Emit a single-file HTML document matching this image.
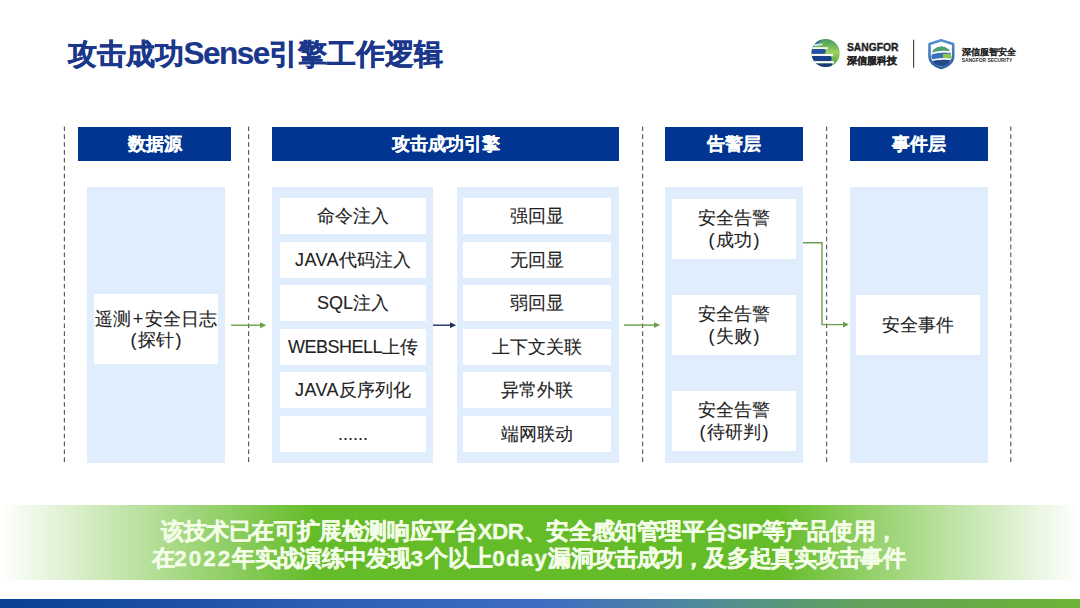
<!DOCTYPE html>
<html><head><meta charset="utf-8">
<style>
*{margin:0;padding:0;box-sizing:border-box}
html,body{width:1080px;height:608px;overflow:hidden;background:#fff}
body{position:relative;font-family:"Liberation Sans",sans-serif;color:#222}
.a{position:absolute}
.title{left:67.5px;top:35px;font-size:29px;font-weight:bold;color:#1a378b;-webkit-text-stroke:0.4px #1a378b;white-space:nowrap;line-height:36px;letter-spacing:0}
.dash{position:absolute;top:126px;width:1px;height:337px;
  background:repeating-linear-gradient(to bottom,#666 0,#666 3px,transparent 3px,transparent 5.3px)}
.hdr{position:absolute;top:127.4px;height:34px;background:#023592;color:#fff;-webkit-text-stroke:0.15px #fff;font-weight:bold;font-size:18px;
  display:flex;align-items:center;justify-content:center;white-space:nowrap}
.pnl{position:absolute;top:186.5px;height:276.5px;background:#e0edfd}
.box{position:absolute;background:#fff;display:flex;align-items:center;justify-content:center;text-align:center;
  font-size:18px;line-height:22px;color:#222;-webkit-text-stroke:0.1px #222;white-space:nowrap}
.banner{left:0;top:505px;width:1080px;height:75px;
  background:linear-gradient(90deg,#ffffff 0%,#65bc29 29%,#65bc29 72%,#ffffff 100%)}
.bl{color:#f4fde8;-webkit-text-stroke:0.3px #f4fde8;font-weight:bold;font-size:22.5px;line-height:24px;white-space:nowrap}
.bar{left:0;top:599px;width:1080px;height:9px;
  background:linear-gradient(90deg,#0a3f94 0%,#2d5fb5 30%,#3e6cc4 50%,#4f8a9a 65%,#62a25a 80%,#6cb435 100%)}
</style></head>
<body>
<div class="a title">攻击成功<span style="font-size:31.5px;letter-spacing:-1.5px;-webkit-text-stroke:0.2px #1a378b">Sense</span>引擎工作逻辑</div>

<!-- logo -->
<svg class="a" style="left:800px;top:30px" width="230" height="50" viewBox="800 30 230 50">
  <defs>
    <clipPath id="gc"><circle cx="825.6" cy="53" r="14.1"/></clipPath>
    <linearGradient id="gg" x1="0" y1="0" x2="1" y2="0">
      <stop offset="0" stop-color="#1d4a93"/><stop offset="0.45" stop-color="#2a629f"/>
      <stop offset="0.62" stop-color="#4f9e58"/><stop offset="1" stop-color="#8cc640"/>
    </linearGradient>
    <linearGradient id="sg" x1="0" y1="0" x2="0" y2="1">
      <stop offset="0" stop-color="#5a8fcf"/><stop offset="1" stop-color="#2c5d9e"/>
    </linearGradient>
    <linearGradient id="gv" x1="0" y1="0" x2="0" y2="1">
      <stop offset="0" stop-color="#3d9657"/><stop offset="0.45" stop-color="#9fd060"/><stop offset="0.75" stop-color="#5cae4e"/><stop offset="1" stop-color="#3c8a5c"/>
    </linearGradient>
    <clipPath id="sc"><circle cx="941.3" cy="56.3" r="9.9"/></clipPath>
  </defs>
  <g clip-path="url(#gc)">
    <rect x="810" y="38" width="32" height="32" fill="url(#gv)"/>
    <path d="M810 40 L822 40 Q818 44 814 47.2 L810 47.2Z" fill="#3a6fb0"/>
    <path d="M812 44.6 Q816 44 822 43.6 L823 45 Q817 45.6 812 46.4Z" fill="#cfe9ee"/>
    <rect x="810" y="47.2" width="18" height="1.8" fill="#f2f7f4"/>
    <path d="M810 49 L824.5 49 Q827 51.4 824.5 53.9 L810 53.9Z" fill="#2552a0"/>
    <rect x="810" y="53.9" width="23" height="2.2" fill="#f4f8f6"/>
    <path d="M810 56.1 L830.5 56.1 Q833 58.6 830.5 61.1 L810 61.1Z" fill="#1a3f86"/>
    <rect x="810" y="61.1" width="24" height="2.3" fill="#f6f9f6"/>
    <path d="M810 63.4 L832 63.4 L832 70 L810 70Z" fill="#1c3a78"/>
  </g>
  <text x="847" y="51.2" font-family="Liberation Sans" font-weight="bold" font-size="10.3" fill="#1e1e1e" stroke="#1e1e1e" stroke-width="0.35">SANGFOR</text>
  <text x="847" y="63.6" font-weight="bold" font-size="10.2" fill="#262626" stroke="#262626" stroke-width="0.3">深信服科技</text>
  <rect x="913" y="39.7" width="1.2" height="28" fill="#4a4a4a"/>
  <path d="M929.5 44 L941 40.3 L953.2 44 L953.2 56 Q953.2 64.5 941 68 Q929.5 64.5 929.5 56Z" fill="none" stroke="url(#sg)" stroke-width="2.6" stroke-linejoin="round"/>
  <g clip-path="url(#sc)">
    <rect x="930" y="45" width="24" height="23" fill="#3a72b6"/>
    <path d="M930 45 L953 45 L953 51.5 Q941 49.2 930 53Z" fill="#4fa06a"/>
    <path d="M930 53 Q941 49.2 953 51.5 L953 53.2 Q941 51 930 54.8Z" fill="#fff"/>
    <path d="M943 54 Q948 53.3 953 54.2 L953 58.6 Q948 57.8 943 58.4Z" fill="#8cc653"/>
    <path d="M930 59.8 Q941 56.8 953 58.6 L953 60.4 Q941 58.6 930 61.6Z" fill="#fff"/>
    <path d="M930 61.6 Q941 58.6 953 60.4 L953 68 L930 68Z" fill="#21498a"/>
  </g>
  <text x="961.7" y="54.6" font-weight="bold" font-size="8.5" fill="#262626" stroke="#262626" stroke-width="0.1">深信服智安全</text>
  <text x="961.7" y="62.4" font-family="Liberation Sans" font-weight="bold" font-size="5.4" fill="#2a2a2a" textLength="50.5" lengthAdjust="spacingAndGlyphs">SANGFOR SECURITY</text>
</svg>

<!-- dashed separators -->
<svg class="a" style="left:0;top:0" width="1080" height="608">
  <g stroke="#5a5a5a" stroke-width="1.15" stroke-dasharray="4.6 3.28">
    <line x1="64.4" y1="126.4" x2="64.4" y2="462"/>
    <line x1="248.6" y1="126.4" x2="248.6" y2="462"/>
    <line x1="642.6" y1="126.4" x2="642.6" y2="462"/>
    <line x1="826.6" y1="126.4" x2="826.6" y2="462"/>
    <line x1="1010.8" y1="126.4" x2="1010.8" y2="462"/>
  </g>
</svg>

<!-- headers -->
<div class="hdr" style="left:78px;width:153px">数据源</div>
<div class="hdr" style="left:272px;width:347px">攻击成功引擎</div>
<div class="hdr" style="left:665px;width:138px">告警层</div>
<div class="hdr" style="left:850px;width:138px">事件层</div>

<!-- panels -->
<div class="pnl" style="left:87px;width:138px"></div>
<div class="pnl" style="left:272px;width:161px"></div>
<div class="pnl" style="left:457px;width:162px"></div>
<div class="pnl" style="left:665px;width:138px"></div>
<div class="pnl" style="left:850px;width:138px"></div>

<!-- data source box -->
<div class="box" style="left:94px;top:294px;width:124px;height:70px"><div><span style="position:relative;top:1px">遥测<span style="margin:0 1.5px">+</span>安全日志</span><br><span style="margin-right:1.5px">(</span>探针<span style="margin-left:1.5px">)</span></div></div>

<!-- engine col 1 -->
<div class="box" style="left:280px;top:198px;width:146px;height:36px">命令注入</div>
<div class="box" style="left:280px;top:241.6px;width:146px;height:36px"><span style="letter-spacing:0.4px">JAVA</span>代码注入</div>
<div class="box" style="left:280px;top:285.2px;width:146px;height:36px">SQL注入</div>
<div class="box" style="left:280px;top:328.8px;width:146px;height:36px"><span style="letter-spacing:-0.5px">WEBSHELL</span>上传</div>
<div class="box" style="left:280px;top:372.4px;width:146px;height:36px"><span style="letter-spacing:0.4px">JAVA</span>反序列化</div>
<div class="box" style="left:280px;top:416px;width:146px;height:36px">......</div>

<!-- engine col 2 -->
<div class="box" style="left:463px;top:198px;width:148px;height:36px">强回显</div>
<div class="box" style="left:463px;top:241.6px;width:148px;height:36px">无回显</div>
<div class="box" style="left:463px;top:285.2px;width:148px;height:36px">弱回显</div>
<div class="box" style="left:463px;top:328.8px;width:148px;height:36px">上下文关联</div>
<div class="box" style="left:463px;top:372.4px;width:148px;height:36px">异常外联</div>
<div class="box" style="left:463px;top:416px;width:148px;height:36px">端网联动</div>

<!-- alarm -->
<div class="box" style="left:672px;top:199px;width:124px;height:60px"><div>安全告警<br><span style="margin-right:1.5px">(</span>成功<span style="margin-left:1.5px">)</span></div></div>
<div class="box" style="left:672px;top:295px;width:124px;height:60px"><div>安全告警<br><span style="margin-right:1.5px">(</span>失败<span style="margin-left:1.5px">)</span></div></div>
<div class="box" style="left:672px;top:391px;width:124px;height:60px"><div>安全告警<br><span style="margin-right:1.5px">(</span>待研判<span style="margin-left:1.5px">)</span></div></div>

<!-- event -->
<div class="box" style="left:856px;top:295px;width:124px;height:60px">安全事件</div>

<!-- arrows -->
<svg class="a" style="left:0;top:0" width="1080" height="608">
  <g stroke="#6aa04c" stroke-width="1.4" fill="none">
    <line x1="231" y1="325.2" x2="261" y2="325.2"/>
    <line x1="624" y1="325.1" x2="655" y2="325.1"/>
    <polyline points="803,242.8 822,242.8 822,324.6 844,324.6"/>
  </g>
  <g fill="#6aa04c">
    <path d="M266.2 325.2 L260 322.2 L260 328.2Z"/>
    <path d="M660.2 325.1 L654 322.2 L654 328Z"/>
    <path d="M849 324.6 L843 321.8 L843 327.4Z"/>
  </g>
  <line x1="433" y1="325.2" x2="451" y2="325.2" stroke="#1f2f66" stroke-width="1.4"/>
  <path d="M456.2 325.2 L450 322.3 L450 328.1Z" fill="#1f2f66"/>
</svg>

<div class="a banner"></div>
<div class="a bl" style="left:161px;top:519.5px;letter-spacing:-0.4px">该技术已在可扩展检测响应平台XDR、安全感知管理平台SIP等产品使用，</div>
<div class="a bl" style="left:152px;top:546.5px;letter-spacing:-0.7px">在<span style="letter-spacing:2px">2022</span>年实战演练中发现<span style="letter-spacing:2px">3</span>个以上<span style="letter-spacing:1.2px">0day</span>漏洞攻击成功，及多起真实攻击事件</div>
<div class="a bar"></div>
</body></html>
